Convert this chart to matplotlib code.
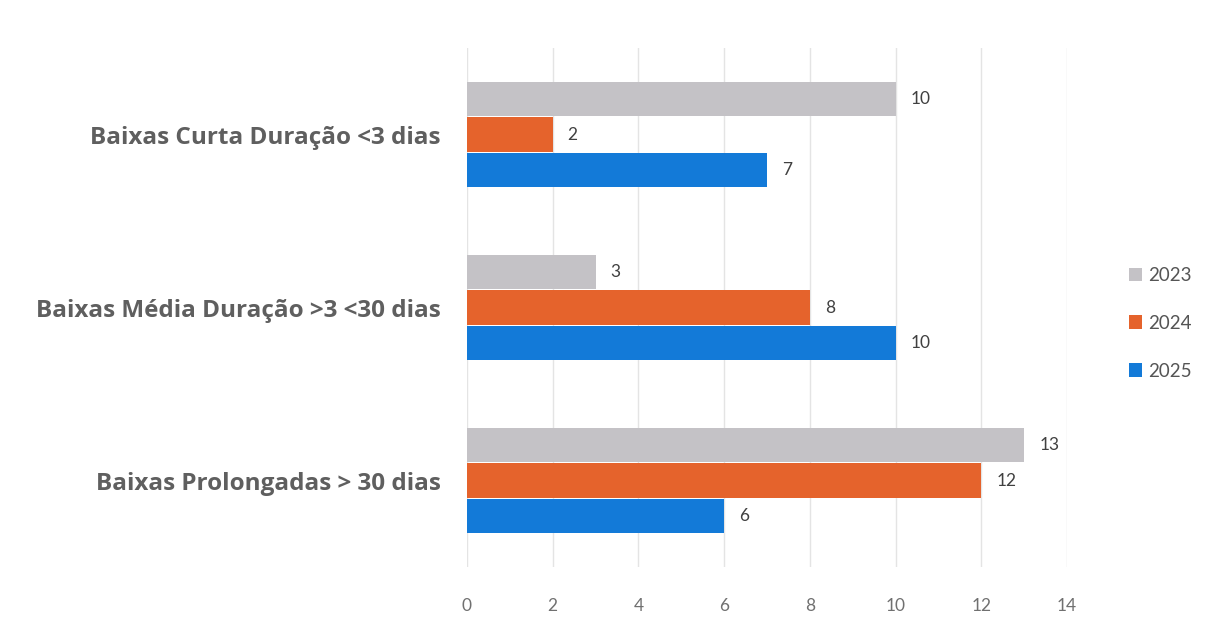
import matplotlib.pyplot as plt
import numpy as np

plt.rcParams['font.family'] = ['Lato', 'DejaVu Sans']

categorias = ['Baixas Curta Duração <3 dias',
              'Baixas Média Duração >3 <30 dias',
              'Baixas Prolongadas > 30 dias']
anos = ['2023', '2024', '2025']
v2023 = [10, 3, 13]
v2024 = [2, 8, 12]
v2025 = [7, 10, 6]
cores = ['#c4c2c6', '#e5632c', '#137ad8']

fig = plt.figure(figsize=(12.15, 6.23), dpi=100)
ax = fig.add_axes([467/1215, 1-567/623, 600/1215, (567-48)/623])

y = np.arange(len(categorias))
h = 0.205
for i, (vals, ano) in enumerate(zip([v2023, v2024, v2025], anos)):
    pos = y + (i - 1) * h
    bars = ax.barh(pos, vals, height=h*0.98, color=cores[i], label=ano, zorder=3)
    for b, v in zip(bars, vals):
        ax.text(v + 0.35, b.get_y() + b.get_height()/2, str(v), va='center', ha='left',
                fontsize=12.5, color='#404040')

ax.set_xlim(0, 14)
ax.set_ylim(2.5, -0.5)
ax.set_xticks(range(0, 15, 2))
ax.set_yticks(y)
ax.set_yticklabels(categorias, fontsize=17.5, fontweight='bold', color='#5f5f5f',
                   family=['Open Sans', 'DejaVu Sans'])
ax.tick_params(axis='x', labelsize=12.5, labelcolor='#707070', length=0, pad=22)
ax.tick_params(axis='y', length=0, pad=19)
ax.grid(axis='x', color='#e4e4e4', lw=1, zorder=0)
for s in ax.spines.values():
    s.set_visible(False)

leg = ax.legend(loc='center left', bbox_to_anchor=(1.075, 0.47), frameon=False,
                fontsize=13.5, handlelength=0.7, handleheight=0.7, labelspacing=1.65,
                handletextpad=0.3)
for t in leg.get_texts():
    t.set_color('#555555')

fig.savefig('out.png', dpi=100)
